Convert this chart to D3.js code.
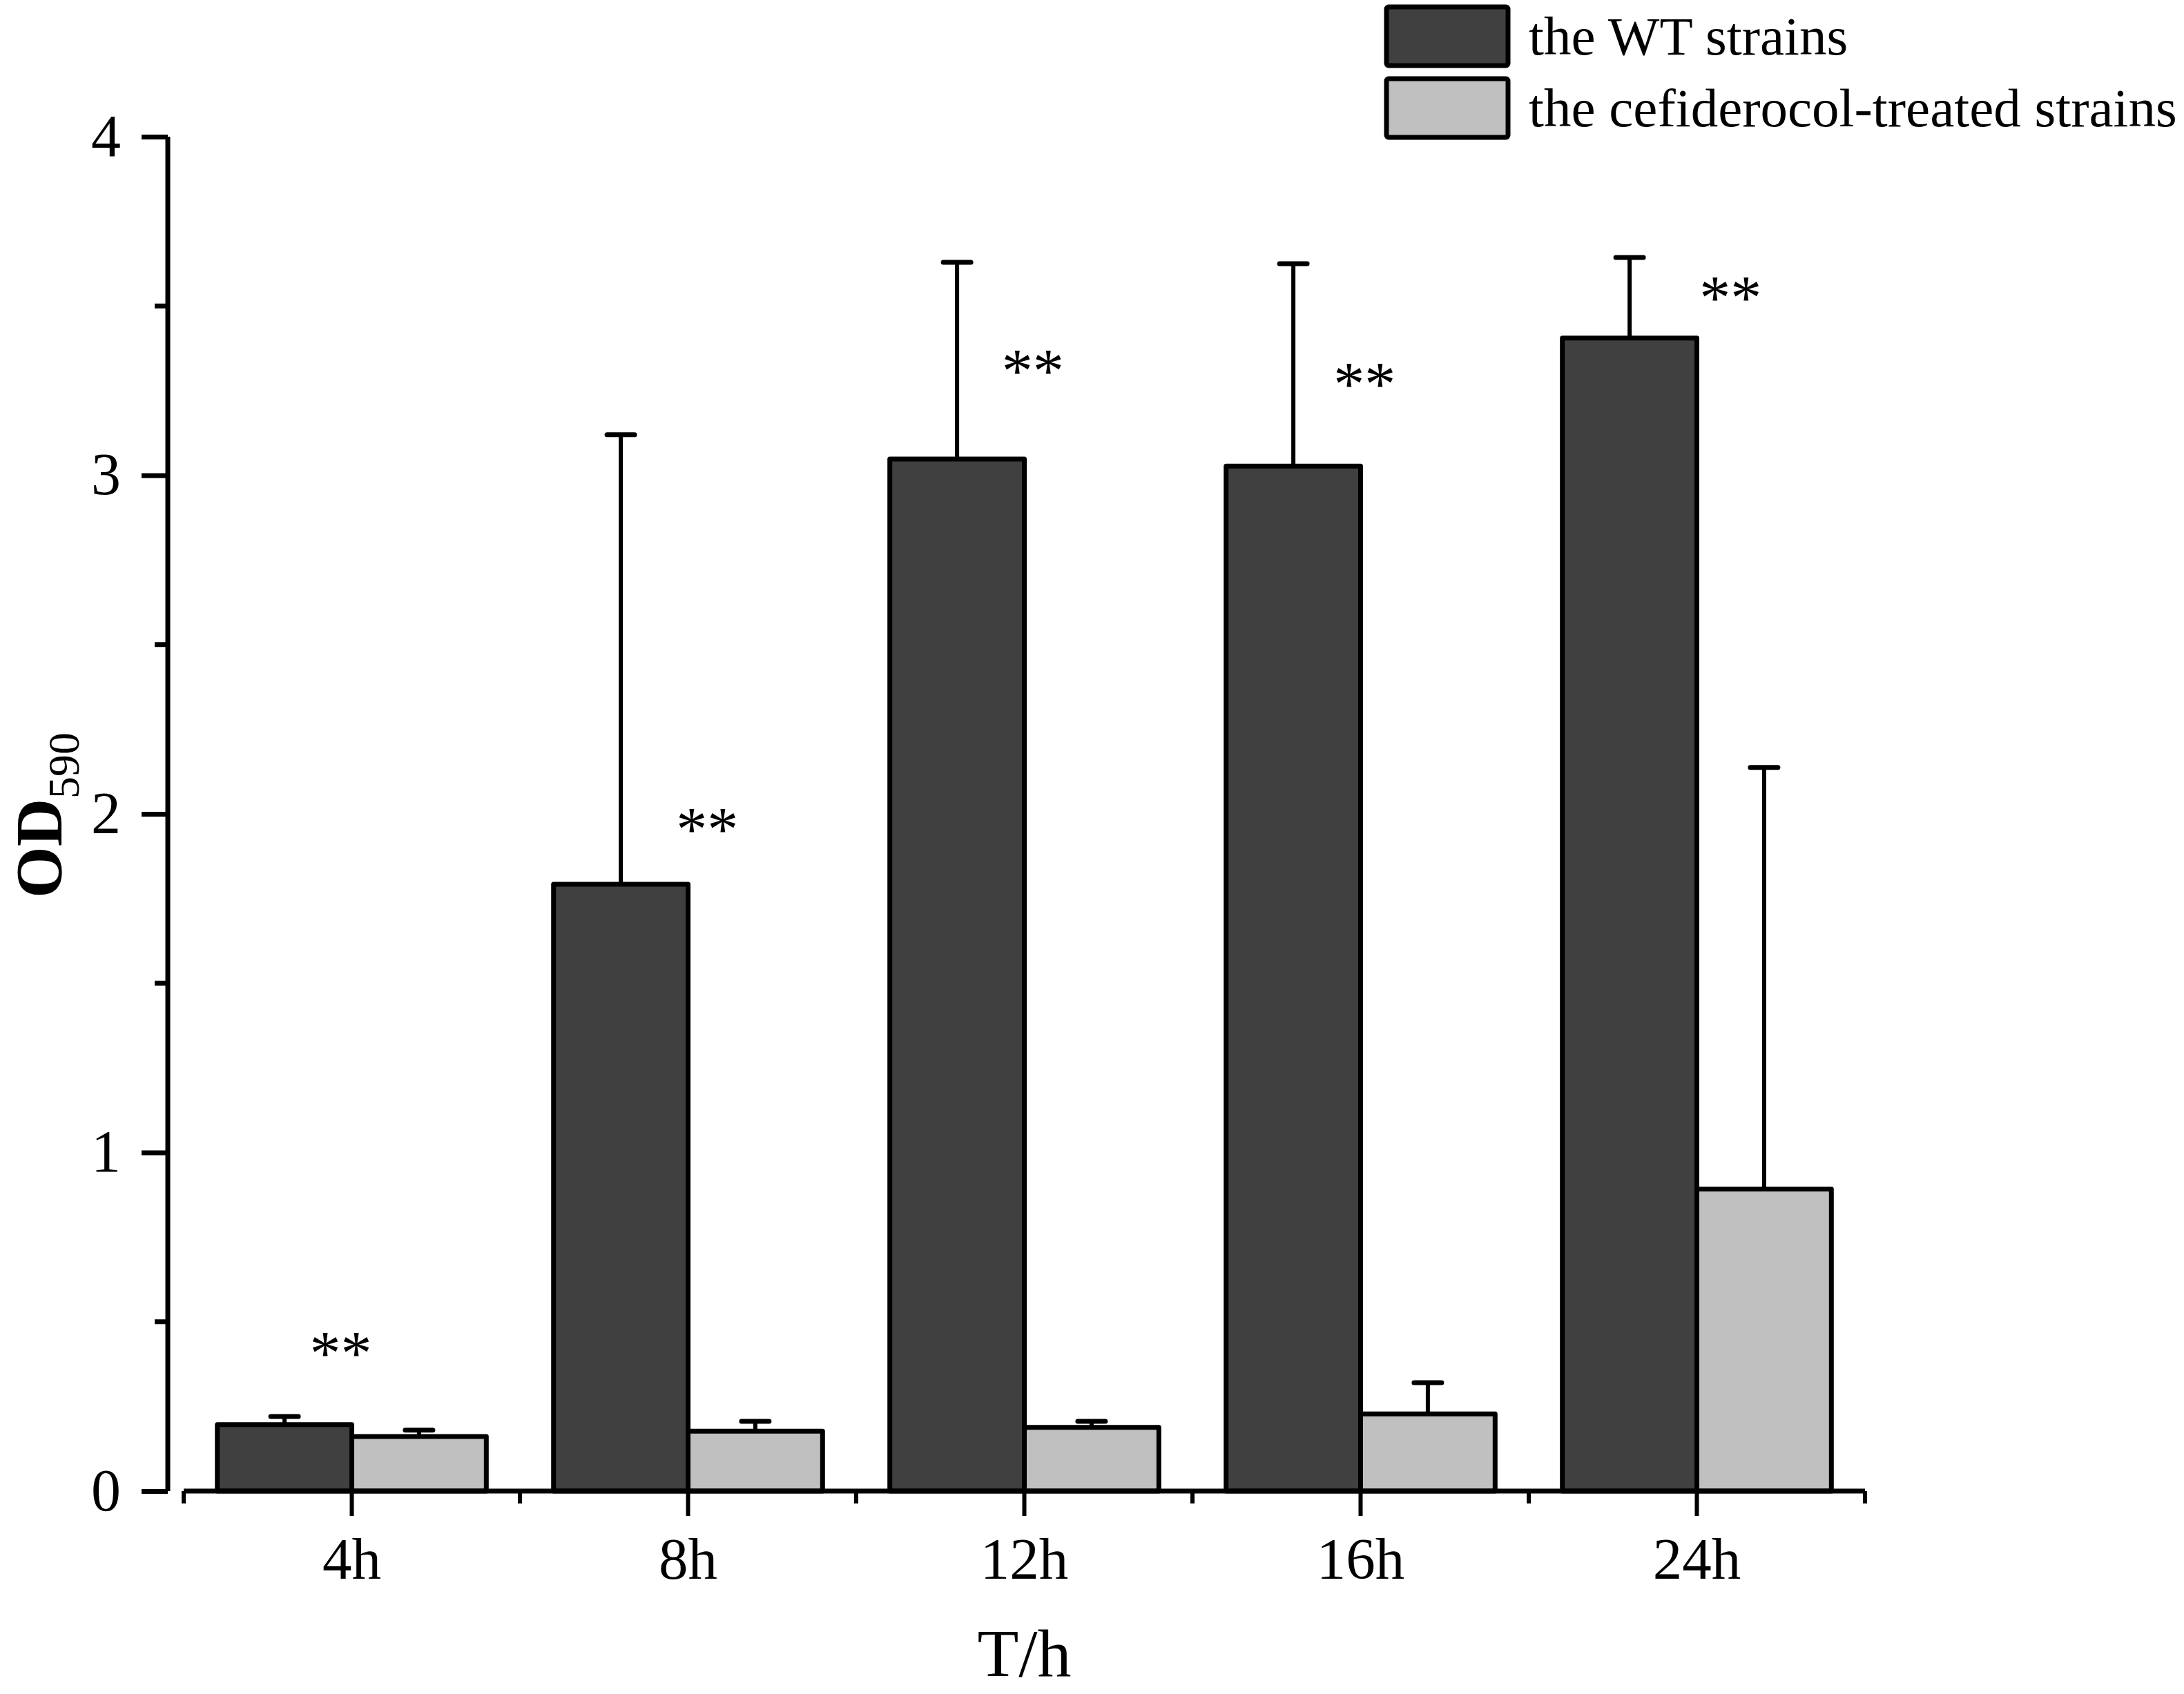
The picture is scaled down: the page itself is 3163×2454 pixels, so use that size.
<!DOCTYPE html>
<html>
<head>
<meta charset="utf-8">
<script src="https://cdn.jsdelivr.net/npm/d3@7/dist/d3.min.js"></script>
<style>
  html, body { margin: 0; padding: 0; background: #ffffff; }
  svg { display: block; }
  text { font-family: "Liberation Serif", "Times New Roman", Times, serif; fill: #000; }
</style>
</head>
<body>
<div id="chart"></div>
<script>
// ---------- data ----------
const categories = ["4h", "8h", "12h", "16h", "24h"];
const seriesNames = ["the WT strains", "the cefiderocol-treated strains"];
const wtMeans = [0.196, 1.792, 3.048, 3.027, 3.405];
const wtErrors = [0.024, 1.328, 0.581, 0.598, 0.238];
const treatedMeans = [0.161, 0.177, 0.188, 0.228, 0.892];
const treatedErrors = [0.019, 0.029, 0.018, 0.092, 1.245];
const starLabels = ["**", "**", "**", "**", "**"];
const starValues = [0.43, 1.978, 3.331, 3.294, 3.547];      // vertical centre (OD units)
const starShift = [-0.033, 0.057, 0.025, 0.012, 0.10];     // horizontal shift (fraction of band)
const yTicks = [0, 1, 2, 3, 4];
const yMinorTicks = [0.5, 1.5, 2.5, 3.5];
const colors = ["#404040", "#c0c0c0"];

// ---------- layout ----------
const W = 3163, H = 2454;
const yAxisX = 243;
const xLeft = 266, xRight = 2701;
const yTop = 198, yBottom = 2160;
const FONT = '"Liberation Serif", "Times New Roman", Times, serif';

const svg = d3.select("#chart").append("svg")
  .attr("width", W).attr("height", H)
  .attr("viewBox", `0 0 ${W} ${H}`);
svg.append("rect").attr("width", W).attr("height", H).attr("fill", "#fff");

const y = d3.scaleLinear().domain([0, 4]).range([yBottom, yTop]);
const x = d3.scaleBand().domain(categories).range([xLeft, xRight]).padding(0);
const xSub = d3.scaleBand().domain([0, 1]).range([0, x.bandwidth()]).paddingInner(0).paddingOuter(0.25);

const data = categories.map((c, i) => ({
  cat: c,
  vals: [
    { s: 0, v: wtMeans[i], e: wtErrors[i] },
    { s: 1, v: treatedMeans[i], e: treatedErrors[i] }
  ]
}));

// ---------- bars ----------
const groups = svg.append("g").selectAll("g").data(data).join("g")
  .attr("transform", d => `translate(${x(d.cat)},0)`);

// error bars (drawn first, bar outline covers the base)
groups.selectAll("g.err").data(d => d.vals).join("g").attr("class", "err")
  .each(function(d) {
    const g = d3.select(this);
    const cx = xSub(d.s) + xSub.bandwidth() / 2;
    g.append("line")
      .attr("x1", cx).attr("x2", cx)
      .attr("y1", y(d.v)).attr("y2", y(d.v + d.e))
      .attr("stroke", "#000").attr("stroke-width", 6);
    g.append("line")
      .attr("x1", cx - 20).attr("x2", cx + 20)
      .attr("y1", y(d.v + d.e)).attr("y2", y(d.v + d.e))
      .attr("stroke", "#000").attr("stroke-width", 7).attr("stroke-linecap", "round");
  });

groups.selectAll("rect").data(d => d.vals).join("rect")
  .attr("x", d => xSub(d.s))
  .attr("width", xSub.bandwidth())
  .attr("y", d => y(d.v))
  .attr("height", d => y(0) - y(d.v))
  .attr("fill", d => colors[d.s])
  .attr("stroke", "#000")
  .attr("stroke-width", 7)
  .attr("stroke-linejoin", "round");

// ---------- significance stars ----------
const starFs = 90;
svg.append("g").selectAll("text").data(categories).join("text")
  .attr("x", (c, i) => x(c) + x.bandwidth() / 2 + starShift[i] * x.bandwidth())
  .attr("y", (c, i) => y(starValues[i]) + 0.47 * starFs)
  .attr("text-anchor", "middle")
  .attr("font-size", starFs)
  .text((c, i) => starLabels[i]);

// ---------- y axis ----------
const yAxisG = svg.append("g").attr("transform", `translate(${yAxisX},0)`);
yAxisG.call(d3.axisLeft(y).tickValues(yTicks).tickSize(38).tickPadding(30).tickFormat(d3.format("d")));
yAxisG.select(".domain").attr("d", `M0,${yTop}V${yBottom}`).attr("stroke", "#000").attr("stroke-width", 7);
yAxisG.selectAll(".tick line").attr("stroke", "#000").attr("stroke-width", 7);
yAxisG.selectAll(".tick text")
  .attr("font-family", FONT).attr("font-size", 86).attr("fill", "#000")
  .attr("dy", null).attr("y", 27);
yAxisG.append("g").selectAll("line").data(yMinorTicks).join("line")
  .attr("x1", 0).attr("x2", -19)
  .attr("y1", d => y(d)).attr("y2", d => y(d))
  .attr("stroke", "#000").attr("stroke-width", 7);

// ---------- x axis ----------
const xAxisG = svg.append("g").attr("transform", `translate(0,${yBottom})`);
xAxisG.call(d3.axisBottom(x).tickSize(36).tickPadding(0));
xAxisG.select(".domain").attr("d", `M${xLeft},0H${xRight}`).attr("stroke", "#000").attr("stroke-width", 7);
xAxisG.selectAll(".tick line").attr("stroke", "#000").attr("stroke-width", 6);
xAxisG.selectAll(".tick text")
  .attr("font-family", FONT).attr("font-size", 85).attr("fill", "#000")
  .attr("dy", null).attr("y", 127);
const bounds = categories.map(c => x(c)).concat([xRight]);
xAxisG.append("g").selectAll("line").data(bounds).join("line")
  .attr("x1", d => d).attr("x2", d => d)
  .attr("y1", 0).attr("y2", 18)
  .attr("stroke", "#000").attr("stroke-width", 6);

// ---------- axis titles ----------
svg.append("text")
  .attr("x", (xLeft + xRight) / 2)
  .attr("y", 2428)
  .attr("text-anchor", "middle")
  .attr("font-size", 98)
  .text("T/h");

const yl = svg.append("text")
  .attr("transform", `translate(89,${(yTop + yBottom) / 2 + 2}) rotate(-90)`)
  .attr("text-anchor", "middle");
yl.append("tspan").attr("font-size", 96).attr("font-weight", "bold").text("OD");
yl.append("tspan").attr("font-size", 64).attr("dy", 25).text("590");

// ---------- legend ----------
const legend = svg.append("g").attr("transform", "translate(2008,10)");
const items = legend.selectAll("g").data(seriesNames).join("g")
  .attr("transform", (d, i) => `translate(0,${i * 104})`);
items.append("rect")
  .attr("x", 0).attr("y", 0).attr("width", 176).attr("height", 85)
  .attr("rx", 3)
  .attr("fill", (d, i) => colors[i])
  .attr("stroke", "#000").attr("stroke-width", 7);
items.append("text")
  .attr("x", 206).attr("y", 69)
  .attr("font-size", 79)
  .text(d => d);
</script>
</body>
</html>
